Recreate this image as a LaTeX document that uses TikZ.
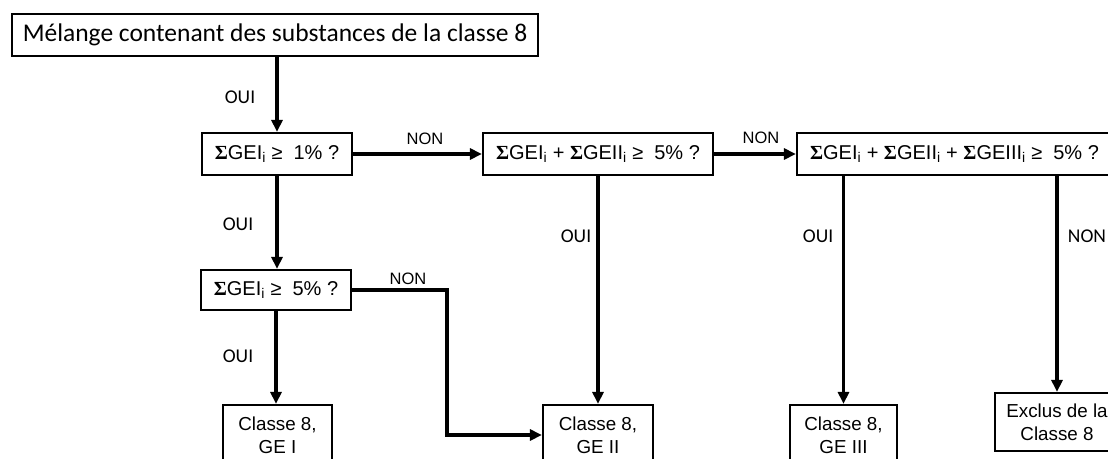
\documentclass[tikz,border=0pt]{standalone}
\usepackage{fontspec}
\setmainfont{Carlito}
\newfontfamily\arialf{Liberation Sans}
\newfontfamily\serff{Liberation Serif}
\usetikzlibrary{arrows.meta}
\newcommand\Sg{{\serff\bfseries Σ}}
\newcommand\gsub{\textsubscript{i}}
\begin{document}
\begin{tikzpicture}[x=1pt,y=-1pt,
  box/.style={draw, line width=2.2pt, inner sep=0pt, align=center,
    font=\arialf\fontsize{20}{23}\selectfont},
  obox/.style={box, font=\arialf\fontsize{18.8}{23}\selectfont},
  arr/.style={line width=3.4pt, -{Triangle[length=12pt,width=11pt]}},
  lbl/.style={inner sep=0pt, font=\fontsize{19.5}{20}\selectfont},
  lbla/.style={inner sep=0pt, font=\arialf\fontsize{16.5}{18}\selectfont}]
\clip (0,0) rectangle (1108,458);
\fill[white] (0,0) rectangle (1108,458);

\node[box, font=\fontsize{25.5}{28}\selectfont, minimum width=526pt, minimum height=42pt] (top) at (275,35) {Mélange contenant des substances de la classe 8};

\node[box, minimum width=150pt, minimum height=42pt] (b1) at (277,154) {\Sg GEI\gsub\ ≥\ \ 1\% ?};
\node[box, minimum width=230pt, minimum height=42pt] (b2) at (598,154) {\Sg GEI\gsub\ + \Sg GEII\gsub\ ≥\ \ 5\% ?};
\node[box, minimum width=315pt, minimum height=42pt] (b3) at (954.5,154) {\Sg GEI\gsub\ + \Sg GEII\gsub\ + \Sg GEIII\gsub\ ≥\ \ 5\% ?};
\node[box, minimum width=150pt, minimum height=40pt] (b4) at (276,290) {\Sg GEI\gsub\ ≥\ \ 5\% ?};

\node[obox, minimum width=109pt, minimum height=60pt] (b5) at (277.5,435) {Classe 8,\\GE I};
\node[obox, minimum width=110pt, minimum height=60pt] (b6) at (598,435) {Classe 8,\\GE II};
\node[obox, minimum width=107pt, minimum height=60pt] (b7) at (843.5,435) {Classe 8,\\GE III};
\node[obox, minimum width=124pt, minimum height=58pt] (b8) at (1057,422) {Exclus de la\\Classe 8};

\coordinate (k) at (447,435);

\draw[arr] (top.south -| b1.north) -- (b1.north);
\draw[arr] (b1.east) -- (b2.west);
\draw[arr] (b2.east) -- (b3.west);
\draw[arr] (b1.south) -- (b1.south |- b4.north);
\draw[arr] (b4.south) -- (b4.south |- b5.north);
\draw[arr] (b4.east) -| (k) -- (b6.west);
\draw[arr] (b2.south) -- (b6.north);
\draw[arr] (b3.south -| b7.north) -- (b7.north);
\draw[arr] (b3.south -| b8.north) -- (b8.north);

\node[lbl] (l1) at (240,97) {OUI};
\node[lbl] (l2) at (238,224) {OUI};
\node[lbl] (l3) at (238,356) {OUI};
\node[lbl] (l4) at (576,236) {OUI};
\node[lbl] (l5) at (818,236) {OUI};
\node[lbl] (l6) at (1087,236) {NON};
\node[lbla] (l7) at (425,139) {NON};
\node[lbla] (l8) at (761,138) {NON};
\node[lbla] (l9) at (408,279) {NON};
\end{tikzpicture}
\end{document}
